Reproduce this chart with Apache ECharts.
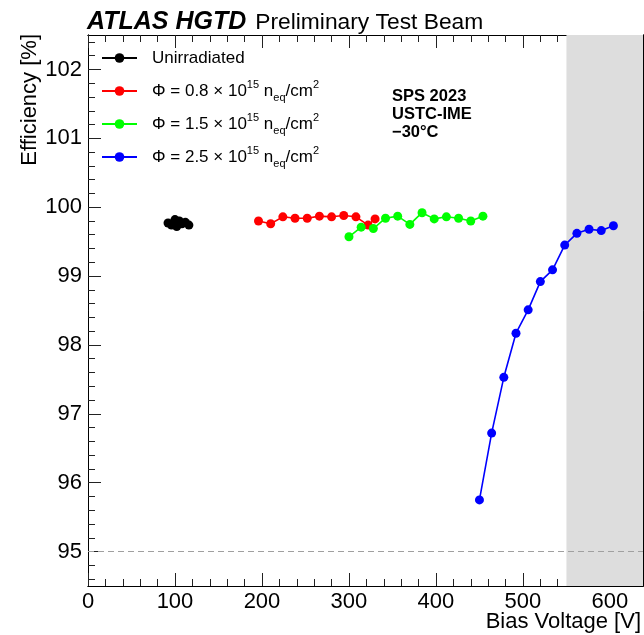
<!DOCTYPE html>
<html><head><meta charset="utf-8">
<script src="https://cdn.jsdelivr.net/npm/echarts@6/dist/echarts.min.js"></script>
<style>html,body{margin:0;padding:0;background:#fff}#c{width:644px;height:635px}</style>
</head><body><div id="c"></div>
<script>
// ---- data ----
const xMajorTicks = [0, 100, 200, 300, 400, 500, 600];
const yMajorTicks = [95, 96, 97, 98, 99, 100, 101, 102];
const seriesNames = ['Unirradiated', 'Φ = 0.8 × 10^15 n_eq/cm^2', 'Φ = 1.5 × 10^15 n_eq/cm^2', 'Φ = 2.5 × 10^15 n_eq/cm^2'];
const seriesColors = ['#000000', '#ff0000', '#00ff00', '#0000ff'];
const unirrV   = [92, 96, 100, 102, 105, 108, 112, 116];
const unirrEff = [99.77, 99.74, 99.82, 99.72, 99.80, 99.76, 99.78, 99.74];
const phi08V   = [196, 210, 224, 238, 252, 266, 280, 294, 308, 322, 330];
const phi08Eff = [99.80, 99.76, 99.86, 99.84, 99.84, 99.87, 99.86, 99.88, 99.86, 99.74, 99.83];
const phi15V   = [300, 314, 328, 342, 356, 370, 384, 398, 412, 426, 440, 454];
const phi15Eff = [99.57, 99.71, 99.69, 99.84, 99.87, 99.75, 99.92, 99.83, 99.86, 99.84, 99.80, 99.87];
const phi25V   = [450, 464, 478, 492, 506, 520, 534, 548, 562, 576, 590, 604];
const phi25Eff = [95.75, 96.72, 97.53, 98.17, 98.51, 98.92, 99.09, 99.45, 99.62, 99.68, 99.66, 99.73];
const shadeRange = [550, 638];
const refLine = 95;
const annotation = ['SPS 2023', 'USTC-IME', '\u221230\u00B0C'];

// ---- build ----
const FONT = '"Liberation Sans", Arial, Helvetica, sans-serif';
const X_MIN = 0, X_MAX = 638, Y_MIN = 94.5, Y_MAX = 102.5;

const xMinor = [];
for (let i = 1; i <= 31; i++) { const v = i * 20; if (v % 100 !== 0) xMinor.push(v); }
const yMinor = [];
for (let i = 473; i <= 512; i++) { if (i % 5 !== 0) yMinor.push(i / 5); }

function xAx(pos, vals, len, labels) {
  return {
    type: 'value', position: pos, min: X_MIN, max: X_MAX,
    axisLine: { show: true, onZero: false, lineStyle: { color: '#000', width: 1 } },
    axisTick: { show: true, inside: true, length: len, customValues: vals, lineStyle: { color: '#222', width: 1 } },
    axisLabel: labels ? { show: true, customValues: vals, margin: 5, fontSize: 22, fontFamily: FONT, color: '#000' } : { show: false },
    splitLine: { show: false }
  };
}
function yAx(pos, vals, len, labels) {
  return {
    type: 'value', position: pos, min: Y_MIN, max: Y_MAX,
    axisLine: { show: true, onZero: false, lineStyle: { color: '#000', width: 1 } },
    axisTick: { show: true, inside: true, length: len, customValues: vals, lineStyle: { color: '#222', width: 1 } },
    axisLabel: labels ? { show: true, customValues: vals, margin: 6, fontSize: 22, fontFamily: FONT, color: '#000' } : { show: false },
    splitLine: { show: false }
  };
}

function zip(a, b) { return a.map((v, i) => [v, b[i]]); }
const dataSets = [zip(unirrV, unirrEff), zip(phi08V, phi08Eff), zip(phi15V, phi15Eff), zip(phi25V, phi25Eff)];

function legendFmt(name) {
  let out = '', buf = '';
  const re = /(\^|_)([A-Za-z0-9]+)/g;
  let last = 0, m;
  while ((m = re.exec(name)) !== null) {
    buf = name.slice(last, m.index);
    if (buf) out += '{t|' + buf + '}';
    out += (m[1] === '^' ? '{sup|' : '{sub|') + m[2] + '}';
    last = re.lastIndex;
  }
  buf = name.slice(last);
  if (buf) out += '{t|' + buf + '}';
  return out;
}

const series = [
  {
    type: 'line', name: '_shade', data: [], z: 1, silent: true,
    markArea: { silent: true, itemStyle: { color: '#dddddd' }, data: [[{ xAxis: shadeRange[0] }, { xAxis: shadeRange[1] }]] }
  },
  {
    type: 'line', name: '_ref', data: [], z: 1, silent: true,
    markLine: { silent: true, symbol: 'none', label: { show: false },
      lineStyle: { type: [6, 4], color: '#a0a0a0', width: 1 }, data: [{ yAxis: refLine }] }
  }
];
dataSets.forEach((d, i) => {
  series.push({
    type: 'line', name: seriesNames[i], data: d, z: 3,
    symbol: 'circle', symbolSize: 9, showSymbol: true,
    itemStyle: { color: seriesColors[i] },
    lineStyle: { color: seriesColors[i], width: 1.6 },
    emphasis: { disabled: true }
  });
});

const chart = echarts.init(document.getElementById('c'), null, { renderer: 'canvas' });
chart.setOption({
  animation: false,
  backgroundColor: '#ffffff',
  grid: { left: 88, right: 1, top: 35, bottom: 49, containLabel: false, outerBoundsMode: 'none' },
  title: [
    {
      left: 82, top: 5,
      text: '{b|ATLAS HGTD}{n|Preliminary Test Beam}',
      textStyle: { rich: {
        b: { fontFamily: FONT, fontSize: 25, fontWeight: 'bold', fontStyle: 'italic', color: '#000' },
        n: { fontFamily: FONT, fontSize: 22.8, fontWeight: 'normal', color: '#000', padding: [0, 0, 0, 9] }
      } }
    },
    {
      left: 387, top: 82,
      text: annotation.join('\n'),
      textStyle: { fontFamily: FONT, fontSize: 16.5, fontWeight: 'bold', color: '#000', lineHeight: 18 }
    }
  ],
  legend: {
    orient: 'vertical', left: 96, top: 41,
    itemWidth: 35, itemHeight: 12, itemGap: 9,
    data: seriesNames,
    formatter: legendFmt,
    selectedMode: false,
    textStyle: {
      fontFamily: FONT, fontSize: 17, color: '#000', lineHeight: 24, padding: [0, 0, 0, 10],
      rich: {
        t: { fontFamily: FONT, fontSize: 17, color: '#000', lineHeight: 24 },
        sup: { fontFamily: FONT, fontSize: 11, color: '#000', verticalAlign: 'top', lineHeight: 13 },
        sub: { fontFamily: FONT, fontSize: 11, color: '#000', verticalAlign: 'bottom', lineHeight: 13 }
      }
    }
  },
  xAxis: [
    xAx('bottom', xMajorTicks, 13, true),
    xAx('bottom', xMinor, 7, false),
    xAx('top', xMajorTicks, 13, false),
    xAx('top', xMinor, 7, false)
  ],
  yAxis: [
    yAx('left', yMajorTicks, 13, true),
    yAx('left', yMinor, 7, false),
    yAx('right', yMajorTicks, 13, false),
    yAx('right', yMinor, 7, false)
  ],
  graphic: [
    { type: 'text', x: 641, y: 622, silent: true,
      style: { text: 'Bias Voltage [V]', fontFamily: FONT, fontSize: 22, fill: '#000', align: 'right', verticalAlign: 'middle' } },
    { type: 'text', x: 30, y: 34, rotation: Math.PI / 2, silent: true,
      style: { text: 'Efficiency [%]', fontFamily: FONT, fontSize: 22, fill: '#000', align: 'right', verticalAlign: 'middle' } }
  ],
  series: series
});
</script>
</body></html>
